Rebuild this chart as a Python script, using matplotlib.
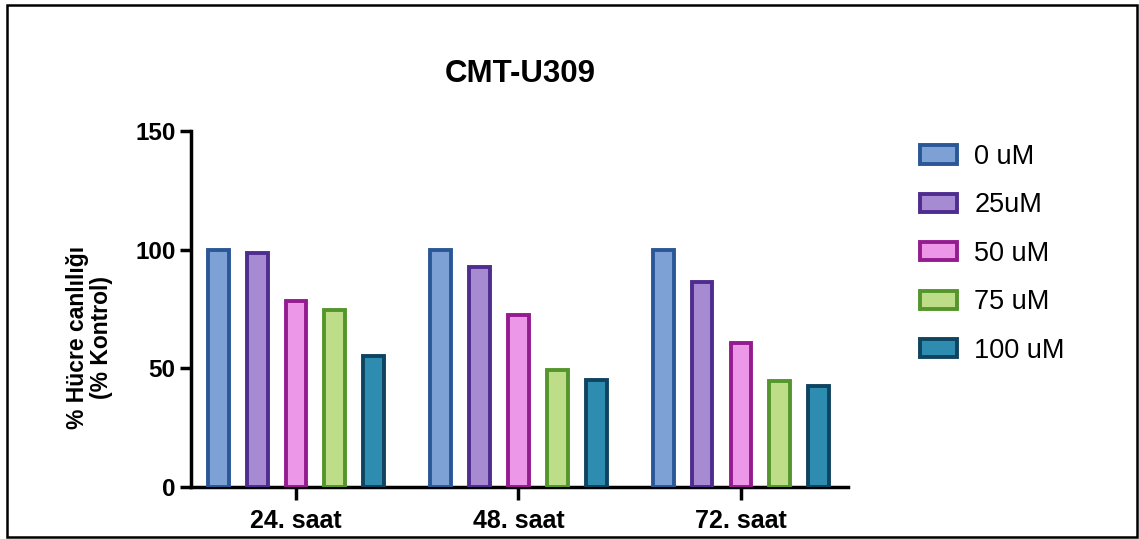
import numpy as np
import matplotlib
matplotlib.use("Agg")
import matplotlib.pyplot as plt
from matplotlib.patches import Rectangle

plt.rcParams['font.family'] = ['Liberation Sans', 'DejaVu Sans']

# viability (% of control) per time point and dose
groups = ["24. saat", "48. saat", "72. saat"]
doses = ["0 uM", "25uM", "50 uM", "75 uM", "100 uM"]
dose_0 = [100, 100, 100]
dose_25 = [98.5, 92.5, 86.5]
dose_50 = [78.5, 72.5, 60.5]
dose_75 = [74.5, 49.5, 44.5]
dose_100 = [55, 45, 42.5]
series = [dose_0, dose_25, dose_50, dose_75, dose_100]

fills = ["#7DA1D4", "#A68BD2", "#EC97E8", "#BDDD88", "#2E8CB0"]
edges = ["#2B5797", "#4F2C8F", "#951C8F", "#54962C", "#0F4461"]

fig = plt.figure(figsize=(11.39, 5.39), dpi=100)
ax = fig.add_axes([0.1677, 0.0965, 0.5768, 0.6605])

x = np.arange(len(groups))
step = 0.175
w = 0.094
for i, vals in enumerate(series):
    ax.bar(x + (i - 2) * step, vals, width=w, color=fills[i],
           edgecolor=edges[i], linewidth=2.8, label=doses[i], zorder=3)

ax.set_xlim(-0.472, 2.481)
ax.set_ylim(0, 150)
ax.set_yticks([0, 50, 100, 150])
ax.set_xticks(x)
ax.set_xticklabels(groups, fontsize=18, fontweight='bold')
for lab in ax.get_yticklabels():
    lab.set_fontsize(17.5)
    lab.set_fontweight('bold')

for s in ['top', 'right']:
    ax.spines[s].set_visible(False)
for s in ['left', 'bottom']:
    ax.spines[s].set_linewidth(2.5)
ax.tick_params(axis='y', length=8, width=2.5, pad=3)
ax.tick_params(axis='x', length=9, width=2.5, pad=7)

ax.set_ylabel("% Hücre canlılığı\n(% Kontrol)", fontsize=16.5, fontweight='bold',
              linespacing=1.1)
ax.yaxis.set_label_coords(-0.118, 0.42)

fig.text(0.457, 0.863, "CMT-U309", fontsize=22.5, fontweight='bold',
         ha='center', va='center')

fig.legend(loc='upper left', bbox_to_anchor=(920 / 1139, 1 - 144 / 539),
           frameon=False, fontsize=19.5, handlelength=1.35, handleheight=0.65,
           handletextpad=0.65, labelspacing=0.83, borderpad=0, borderaxespad=0)

# outer frame
fig.patches.append(Rectangle((7 / 1139, 2 / 539), 1130 / 1139, 532 / 539,
                             transform=fig.transFigure, fill=False,
                             edgecolor='black', linewidth=1.8))

fig.savefig("out.png", dpi=100)
